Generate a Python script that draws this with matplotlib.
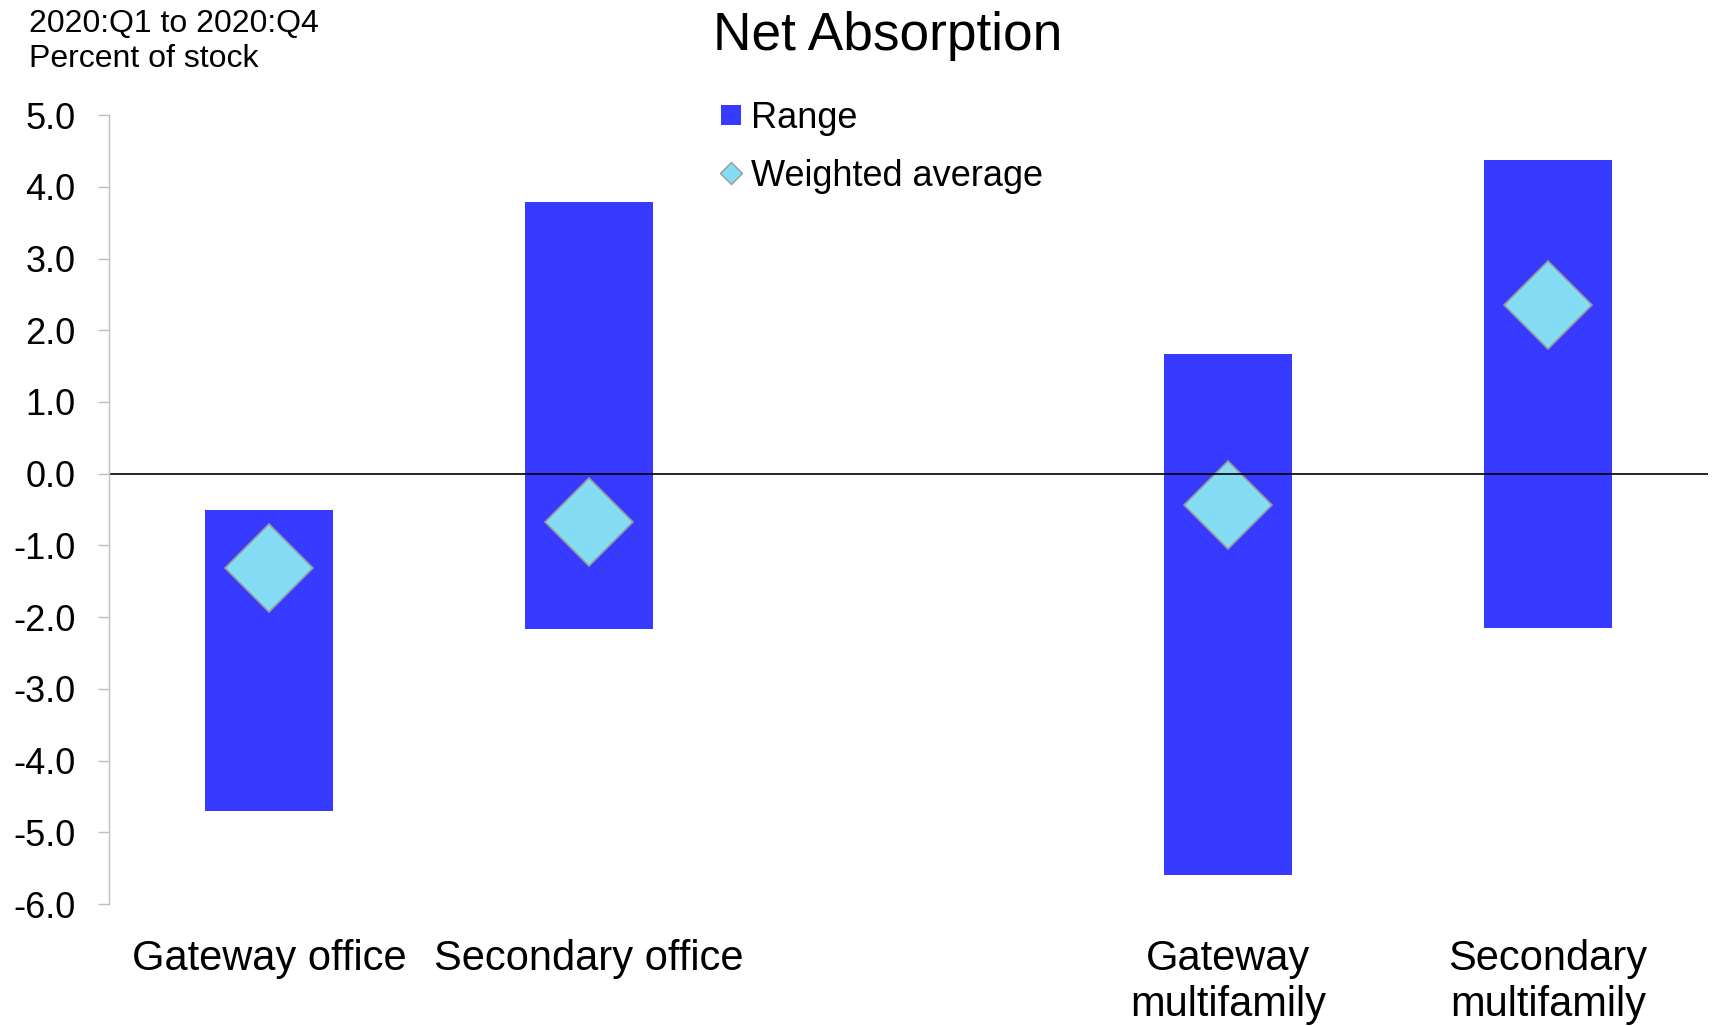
import numpy as np
import matplotlib
matplotlib.use("Agg")
import matplotlib.pyplot as plt
from matplotlib.lines import Line2D

# ===============================
# Data
# ===============================
categories = ["Gateway office", "Secondary office", "",
              "Gateway\nmultifamily", "Secondary\nmultifamily"]
range_low = [-4.70, -2.16, np.nan, -5.60, -2.15]
range_high = [-0.50, 3.79, np.nan, 1.67, 4.37]
weighted_avg = [-1.32, -0.68, np.nan, -0.43, 2.35]

yticks = np.arange(-6, 6, 1)

# ===============================
# Style
# ===============================
plt.rcParams["font.family"] = ["Liberation Sans", "DejaVu Sans"]

bar_color = "#373AFF"
diamond_fill = "#85DDF5"
diamond_edge = "#999999"
axis_grey = "#BFBFBF"

# ===============================
# Figure
# ===============================
fig = plt.figure(figsize=(17.13, 10.26), dpi=100)
ax = fig.add_axes([109 / 1713, 0.1189, (1708 - 109) / 1713, 0.8878 - 0.1189])

x = np.arange(len(categories))
low = np.array(range_low)
high = np.array(range_high)

ax.bar(x, high - low, bottom=low, width=0.4, color=bar_color, linewidth=0)
ax.plot(x, weighted_avg, linestyle="none", marker="D", markersize=45,
        markerfacecolor=diamond_fill, markeredgecolor=diamond_edge,
        markeredgewidth=1.2)

ax.axhline(0, color="black", linewidth=1.2)

ax.set_xlim(-0.5, len(categories) - 0.5)
ax.set_ylim(-6, 5)
ax.set_yticks(yticks)
ax.set_yticklabels([f"{v:.1f}" for v in yticks], fontsize=26)
ax.set_xticks(x)
ax.set_xticklabels(categories, fontsize=30, linespacing=1.2)

for side in ["top", "right", "bottom"]:
    ax.spines[side].set_visible(False)
ax.spines["left"].set_color(axis_grey)
ax.spines["left"].set_linewidth(1.0)

ax.tick_params(axis="y", direction="out", length=8, width=1.0,
               color=axis_grey, pad=16)
ax.tick_params(axis="x", length=0, pad=25)

# ===============================
# Legend
# ===============================
handles = [
    Line2D([], [], linestyle="none", marker="s", markersize=13.9,
           markerfacecolor=bar_color, markeredgewidth=0),
    Line2D([], [], linestyle="none", marker="D", markersize=11.5,
           markerfacecolor=diamond_fill, markeredgecolor=diamond_edge,
           markeredgewidth=1.0),
]
fig.legend(handles, ["Range", "Weighted average"], loc="upper left",
           bbox_to_anchor=(720 / 1713, 1 - 101 / 1026), frameon=False,
           fontsize=26, borderpad=0, borderaxespad=0, handlelength=0.6,
           handletextpad=0.25, labelspacing=0.64)

# ===============================
# Titles
# ===============================
fig.text(888 / 1713, 1 - 50 / 1026, "Net Absorption", fontsize=38.3,
         ha="center", va="baseline")
fig.text(29 / 1713, 1 - 31.7 / 1026, "2020:Q1 to 2020:Q4", fontsize=23,
         ha="left", va="baseline")
fig.text(29 / 1713, 1 - 66.7 / 1026, "Percent of stock", fontsize=23,
         ha="left", va="baseline")

plt.savefig("out.png", dpi=100)
